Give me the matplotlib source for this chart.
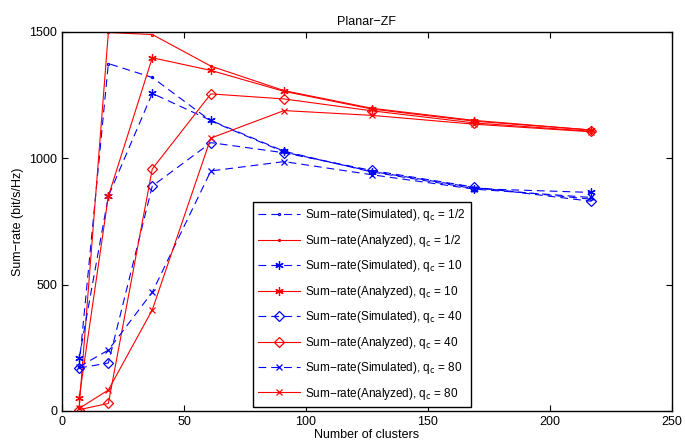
import matplotlib
matplotlib.use('Agg')
import matplotlib.pyplot as plt

plt.rcParams['font.family'] = ['Liberation Sans', 'DejaVu Sans']
plt.rcParams['font.size'] = 9

# numero de clusters (numeros hexagonais)
clusters = [7, 19, 37, 61, 91, 127, 169, 217]

# soma das taxas (bit/s/Hz)
sim_half = [175, 1375, 1320, 1148, 1025, 948, 884, 838]
ana_half = [10, 1498, 1490, 1365, 1268, 1198, 1150, 1112]
sim_10 = [208, 850, 1257, 1150, 1028, 946, 880, 865]
ana_10 = [50, 850, 1398, 1348, 1265, 1195, 1147, 1112]
sim_40 = [170, 190, 890, 1062, 1022, 952, 886, 830]
ana_40 = [5, 30, 958, 1255, 1235, 1188, 1140, 1107]
sim_80 = [175, 241, 470, 950, 987, 935, 878, 845]
ana_80 = [10, 83, 400, 1080, 1189, 1170, 1135, 1105]

qc_labels = ['1/2', '10', '40', '80']

fig = plt.figure(figsize=(6.85, 4.48), dpi=100)
ax = fig.add_axes([0.0905, 0.0826, 0.8905, 0.846])

dash = (0, (7, 4.5))
asterisco = (6, 2, 0)
series = [
    (sim_half, ana_half, '.', 3),
    (sim_10, ana_10, asterisco, 6),
    (sim_40, ana_40, 'D', 5),
    (sim_80, ana_80, 'x', 4.5),
]
for (sim, ana, mk, ms), q in zip(series, qc_labels):
    ax.plot(clusters, sim, color='blue', linestyle=dash, lw=0.8, marker=mk,
            ms=ms, mfc='none', mew=0.9,
            label='Sum\u2212rate(Simulated), q$_\\mathrm{c}$ = ' + q)
    ax.plot(clusters, ana, color='red', linestyle='-', lw=0.8, marker=mk,
            ms=ms, mfc='none', mew=0.9,
            label='Sum\u2212rate(Analyzed), q$_\\mathrm{c}$ = ' + q)

ax.set_xlim(0, 250)
ax.set_ylim(0, 1500)
ax.set_xticks([0, 50, 100, 150, 200, 250])
ax.set_yticks([0, 500, 1000, 1500])
ax.tick_params(direction='in', top=True, right=True, length=4, width=0.8)
for s in ax.spines.values():
    s.set_linewidth(1.0)
ax.set_xlabel('Number of clusters', labelpad=1)
ax.set_ylabel('Sum\u2212rate (bit/s/Hz)', labelpad=4)
ax.set_title('Planar\u2212ZF', fontsize=9, pad=5)

leg = ax.legend(loc='upper left', bbox_to_anchor=(0.313, 0.551), fontsize=8.5,
                handlelength=3.5, labelspacing=0.8, handletextpad=0.5,
                borderpad=0.45, fancybox=False, framealpha=1, borderaxespad=0)
leg.get_frame().set_edgecolor('black')
leg.get_frame().set_linewidth(1.0)

fig.savefig('out.png', dpi=100)
